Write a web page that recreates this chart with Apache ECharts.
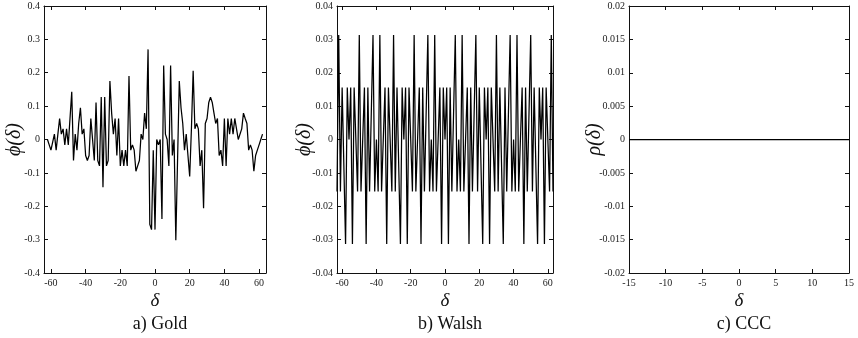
<!DOCTYPE html>
<html>
<head>
<meta charset="utf-8">
<title>Correlation of spreading codes</title>
<script src="https://cdn.jsdelivr.net/npm/echarts@6/dist/echarts.min.js"></script>
<style>
  html, body { margin: 0; padding: 0; background: #fff; }
  #main { width: 858px; height: 338px; }
</style>
</head>
<body>
<div id="main"></div>
<script>
// a) Gold: cross-correlation for lags -62..62
const goldLagStart = -62
const goldPhi = [
  0.000, -0.016, -0.032, -0.032, 0.016, -0.032, 0.016, 0.063, 0.016, 0.032,
  -0.016, 0.032, -0.016, -0.016, 0.143, -0.063, 0.016, -0.032, 0.048, 0.095,
  0.016, 0.032, -0.048, -0.063, -0.048, 0.063, 0.000, -0.063, 0.111, -0.063,
  -0.079, 0.127, -0.143, 0.127, -0.079, -0.063, 0.175, 0.079, 0.016, 0.063,
  -0.048, 0.063, -0.079, -0.032, -0.079, -0.032, -0.079, 0.190, -0.032, -0.016,
  -0.032, -0.095, -0.079, -0.063, 0.016, 0.000, 0.079, 0.032, 0.270, -0.254,
  -0.270, -0.032, -0.270, 0.000, -0.016, 0.000, -0.238, 0.222, 0.016, 0.000,
  -0.079, 0.222, -0.048, 0.000, -0.302, -0.063, 0.175, 0.095, 0.048, -0.032,
  0.016, -0.048, -0.111, 0.032, 0.206, 0.032, 0.048, 0.032, -0.079, -0.032,
  -0.206, 0.048, 0.063, 0.111, 0.127, 0.111, 0.079, 0.048, 0.063, -0.048,
  -0.032, -0.079, 0.063, -0.079, 0.063, 0.016, 0.063, 0.016, 0.063, 0.032,
  0.000, 0.000, 0.032, 0.079, 0.063, 0.048, -0.032, -0.016, -0.032, -0.095,
  -0.048, -0.032, -0.016, 0.000, 0.016
]

// b) Walsh: lags -63..63
const walshLagStart = -63
const walshPhi = [
  -0.0156, 0.0313, -0.0156, 0.0156, 0.0156, -0.0313, 0.0156, 0,
  0.0156, -0.0313, 0.0156, 0.0156, -0.0156, 0.0313, -0.0156, -0.0156,
  0.0156, -0.0313, 0.0156, -0.0156, -0.0156, 0.0313, -0.0156, 0,
  -0.0156, 0.0313, -0.0156, -0.0156, 0.0156, -0.0313, 0.0156, 0.0156,
  -0.0156, 0.0313, -0.0156, 0.0156, 0.0156, -0.0313, 0.0156, 0,
  0.0156, -0.0313, 0.0156, 0.0156, -0.0156, 0.0313, -0.0156, -0.0156,
  0.0156, -0.0313, 0.0156, -0.0156, -0.0156, 0.0313, -0.0156, 0,
  -0.0156, 0.0313, -0.0156, -0.0156, 0.0156, -0.0313, 0.0156,
  0,
  0.0156, -0.0313, 0.0156, -0.0156, -0.0156, 0.0313, -0.0156,
  0, -0.0156, 0.0313, -0.0156, -0.0156, 0.0156, -0.0313, 0.0156,
  -0.0156, -0.0156, 0.0313, -0.0156, 0.0156, 0.0156, -0.0313, 0.0156,
  0, 0.0156, -0.0313, 0.0156, 0.0156, -0.0156, 0.0313, -0.0156,
  0.0156, 0.0156, -0.0313, 0.0156, -0.0156, -0.0156, 0.0313, -0.0156,
  0, -0.0156, 0.0313, -0.0156, -0.0156, 0.0156, -0.0313, 0.0156,
  -0.0156, -0.0156, 0.0313, -0.0156, 0.0156, 0.0156, -0.0313, 0.0156,
  0, 0.0156, -0.0313, 0.0156, 0.0156, -0.0156, 0.0313, -0.0156
]

// c) CCC: lags -15..15
const cccLagStart = -15
const cccRho = [
  0, 0, 0, 0, 0, 0, 0, 0, 0, 0, 0, 0, 0, 0, 0, 0,
  0, 0, 0, 0, 0, 0, 0, 0, 0, 0, 0, 0, 0, 0, 0
]

const goldXTicks = [-60, -40, -20, 0, 20, 40, 60]
const walshXTicks = [-60, -40, -20, 0, 20, 40, 60]
const cccXTicks = [-15, -10, -5, 0, 5, 10, 15]

const captions = ['a) Gold', 'b) Walsh', 'c) CCC']

const FONT = 'Liberation Serif'
const INK = '#111'

const panels = [
  { grid: { left: 44, top: 6, width: 222, height: 267 }, xMin: -64, xMax: 64, xTicks: goldXTicks,
    yMin: -0.4, yMax: 0.4, yStep: 0.1, yName: '{i|ϕ}(δ)', lagStart: goldLagStart, values: goldPhi, gap: 19 },
  { grid: { left: 337, top: 6, width: 216, height: 267 }, xMin: -63, xMax: 63, xTicks: walshXTicks,
    yMin: -0.04, yMax: 0.04, yStep: 0.01, yName: '{i|ϕ}(δ)', lagStart: walshLagStart, values: walshPhi, gap: 22 },
  { grid: { left: 629, top: 6, width: 220, height: 267 }, xMin: -15, xMax: 15, xTicks: cccXTicks,
    yMin: -0.02, yMax: 0.02, yStep: 0.005, yName: '{i|ρ}(δ)', lagStart: cccLagStart, values: cccRho, gap: 24 }
]

const tickStyle = { show: true, inside: true, length: 4, lineStyle: { color: INK, width: 1 } }
const lineStyle = { show: true, onZero: false, lineStyle: { color: INK, width: 1 } }
const labelFont = { fontFamily: FONT, fontSize: 10, color: '#222' }

function buildOption() {
  const grid = [], xAxis = [], yAxis = [], series = [], title = []
  panels.forEach((p, i) => {
    grid.push(Object.assign({ outerBoundsMode: 'none' }, p.grid))
    // bottom and top x axes (box)
    xAxis.push({
      type: 'value', gridIndex: i, min: p.xMin, max: p.xMax, position: 'bottom',
      axisLine: lineStyle, splitLine: { show: false },
      axisTick: Object.assign({ customValues: p.xTicks }, tickStyle),
      axisLabel: Object.assign({ customValues: p.xTicks, margin: 5, formatter: v => String(v) }, labelFont),
      name: 'δ', nameLocation: 'middle', nameGap: 18, nameMoveOverlap: false,
      nameTextStyle: { fontFamily: FONT, fontSize: 19, fontStyle: 'italic', color: INK }
    })
    xAxis.push({
      type: 'value', gridIndex: i, min: p.xMin, max: p.xMax, position: 'top',
      axisLine: lineStyle, splitLine: { show: false },
      axisTick: Object.assign({ customValues: p.xTicks }, tickStyle),
      axisLabel: { show: false }
    })
    yAxis.push({
      type: 'value', gridIndex: i, min: p.yMin, max: p.yMax, interval: p.yStep, position: 'left',
      axisLine: lineStyle, splitLine: { show: false }, axisTick: tickStyle,
      axisLabel: Object.assign({ margin: 4, formatter: v => String(+v.toFixed(3)) }, labelFont),
      name: p.yName, nameLocation: 'middle', nameGap: p.gap, nameRotate: 90, nameMoveOverlap: false,
      nameTextStyle: { fontFamily: FONT, fontSize: 20, fontStyle: 'italic', color: INK,
        rich: { i: { fontFamily: FONT, fontSize: 20, fontStyle: 'italic', color: INK } } }
    })
    yAxis.push({
      type: 'value', gridIndex: i, min: p.yMin, max: p.yMax, interval: p.yStep, position: 'right',
      axisLine: lineStyle, splitLine: { show: false }, axisTick: tickStyle,
      axisLabel: { show: false }
    })
    series.push({
      type: 'line', xAxisIndex: 2 * i, yAxisIndex: 2 * i,
      data: p.values.map((v, k) => [p.lagStart + k, v]),
      showSymbol: false, animation: false, clip: true,
      lineStyle: { color: '#000', width: 1.25 }
    })
    title.push({
      text: captions[i], left: p.grid.left + p.grid.width / 2, top: 310, textAlign: 'center',
      textStyle: { fontFamily: FONT, fontSize: 18, fontWeight: 'normal', color: INK }
    })
  })
  return { animation: false, backgroundColor: '#fff', title, grid, xAxis, yAxis, series }
}

const chart = echarts.init(document.getElementById('main'), null, { renderer: 'canvas' })
chart.setOption(buildOption())
</script>
</body>
</html>
